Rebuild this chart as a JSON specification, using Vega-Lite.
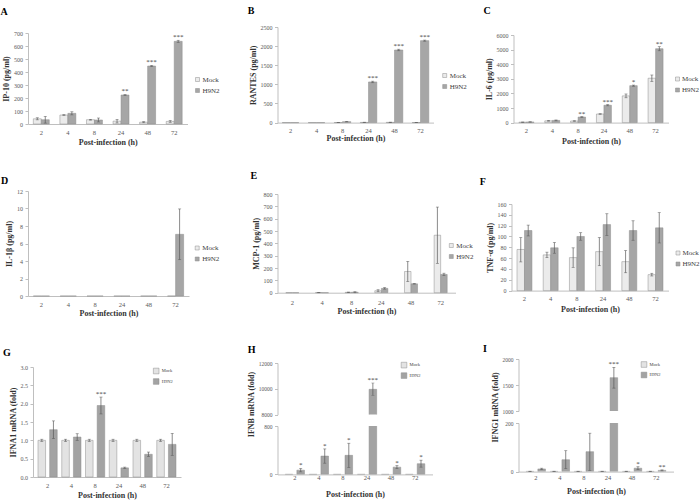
{
"$schema": "https://vega.github.io/schema/vega-lite/v6.json",
"padding": {"left": 0, "top": 0, "right": 0, "bottom": 0},
"background": "white",
"datasets": {
"A": [{"t":"2","g":"Mock","v":40,"lo":32,"hi":48,"s":""},{"t":"2","g":"H9N2","v":33,"lo":7,"hi":59,"s":""},{"t":"4","g":"Mock","v":69,"lo":66,"hi":72,"s":""},{"t":"4","g":"H9N2","v":82,"lo":70,"hi":94,"s":""},{"t":"8","g":"Mock","v":33,"lo":30,"hi":36,"s":""},{"t":"8","g":"H9N2","v":31,"lo":16,"hi":46,"s":""},{"t":"24","g":"Mock","v":22,"lo":8,"hi":36,"s":""},{"t":"24","g":"H9N2","v":223,"lo":219,"hi":227,"s":"**"},{"t":"48","g":"Mock","v":14,"lo":10,"hi":18,"s":""},{"t":"48","g":"H9N2","v":446,"lo":441,"hi":451,"s":"***"},{"t":"72","g":"Mock","v":20,"lo":13,"hi":27,"s":""},{"t":"72","g":"H9N2","v":636,"lo":628,"hi":644,"s":"***"}],
"B": [{"t":"2","g":"Mock","v":0,"lo":null,"hi":null,"s":""},{"t":"2","g":"H9N2","v":0,"lo":null,"hi":null,"s":""},{"t":"4","g":"Mock","v":0,"lo":null,"hi":null,"s":""},{"t":"4","g":"H9N2","v":0,"lo":null,"hi":null,"s":""},{"t":"8","g":"Mock","v":3,"lo":1,"hi":5,"s":""},{"t":"8","g":"H9N2","v":25,"lo":18,"hi":32,"s":""},{"t":"24","g":"Mock","v":5,"lo":0,"hi":10,"s":""},{"t":"24","g":"H9N2","v":1063,"lo":1043,"hi":1083,"s":"***"},{"t":"48","g":"Mock","v":6,"lo":1,"hi":11,"s":""},{"t":"48","g":"H9N2","v":1899,"lo":1879,"hi":1919,"s":"***"},{"t":"72","g":"Mock","v":2,"lo":0,"hi":4,"s":""},{"t":"72","g":"H9N2","v":2143,"lo":2128,"hi":2158,"s":"***"}],
"C": [{"t":"2","g":"Mock","v":30,"lo":20,"hi":40,"s":""},{"t":"2","g":"H9N2","v":45,"lo":35,"hi":55,"s":""},{"t":"4","g":"Mock","v":120,"lo":100,"hi":140,"s":""},{"t":"4","g":"H9N2","v":150,"lo":120,"hi":180,"s":""},{"t":"8","g":"Mock","v":110,"lo":90,"hi":130,"s":""},{"t":"8","g":"H9N2","v":380,"lo":350,"hi":410,"s":"**"},{"t":"24","g":"Mock","v":590,"lo":570,"hi":610,"s":""},{"t":"24","g":"H9N2","v":1190,"lo":1150,"hi":1230,"s":"***"},{"t":"48","g":"Mock","v":1830,"lo":1700,"hi":1960,"s":""},{"t":"48","g":"H9N2","v":2530,"lo":2490,"hi":2570,"s":"*"},{"t":"72","g":"Mock","v":3040,"lo":2820,"hi":3260,"s":""},{"t":"72","g":"H9N2","v":5060,"lo":4920,"hi":5200,"s":"**"}],
"D": [{"t":"2","g":"Mock","v":0,"lo":null,"hi":null,"s":""},{"t":"2","g":"H9N2","v":0,"lo":null,"hi":null,"s":""},{"t":"4","g":"Mock","v":0,"lo":null,"hi":null,"s":""},{"t":"4","g":"H9N2","v":0,"lo":null,"hi":null,"s":""},{"t":"8","g":"Mock","v":0,"lo":null,"hi":null,"s":""},{"t":"8","g":"H9N2","v":0,"lo":null,"hi":null,"s":""},{"t":"24","g":"Mock","v":0,"lo":null,"hi":null,"s":""},{"t":"24","g":"H9N2","v":0,"lo":null,"hi":null,"s":""},{"t":"48","g":"Mock","v":0,"lo":null,"hi":null,"s":""},{"t":"48","g":"H9N2","v":0,"lo":null,"hi":null,"s":""},{"t":"72","g":"Mock","v":0,"lo":null,"hi":null,"s":""},{"t":"72","g":"H9N2","v":7.05,"lo":4.15,"hi":9.95,"s":""}],
"E": [{"t":"2","g":"Mock","v":0,"lo":null,"hi":null,"s":""},{"t":"2","g":"H9N2","v":0,"lo":null,"hi":null,"s":""},{"t":"4","g":"Mock","v":1,"lo":0,"hi":3,"s":""},{"t":"4","g":"H9N2","v":0,"lo":null,"hi":null,"s":""},{"t":"8","g":"Mock","v":3,"lo":1,"hi":5,"s":""},{"t":"8","g":"H9N2","v":4,"lo":0,"hi":8,"s":""},{"t":"24","g":"Mock","v":16,"lo":8,"hi":24,"s":""},{"t":"24","g":"H9N2","v":35,"lo":29,"hi":41,"s":""},{"t":"48","g":"Mock","v":172,"lo":90,"hi":254,"s":""},{"t":"48","g":"H9N2","v":72,"lo":70,"hi":74,"s":""},{"t":"72","g":"Mock","v":466,"lo":238,"hi":694,"s":""},{"t":"72","g":"H9N2","v":148,"lo":138,"hi":158,"s":""}],
"F": [{"t":"2","g":"Mock","v":76,"lo":53,"hi":98,"s":""},{"t":"2","g":"H9N2","v":111,"lo":101,"hi":121,"s":""},{"t":"4","g":"Mock","v":66,"lo":61,"hi":71,"s":""},{"t":"4","g":"H9N2","v":79,"lo":69,"hi":89,"s":""},{"t":"8","g":"Mock","v":61,"lo":43,"hi":79,"s":""},{"t":"8","g":"H9N2","v":100,"lo":93,"hi":107,"s":""},{"t":"24","g":"Mock","v":72,"lo":46,"hi":98,"s":""},{"t":"24","g":"H9N2","v":122,"lo":102,"hi":142,"s":""},{"t":"48","g":"Mock","v":53.5,"lo":33,"hi":74,"s":""},{"t":"48","g":"H9N2","v":111,"lo":93,"hi":129,"s":""},{"t":"72","g":"Mock","v":29.5,"lo":27,"hi":32,"s":""},{"t":"72","g":"H9N2","v":116,"lo":88,"hi":144,"s":""}],
"G": [{"t":"2","g":"Mock","v":1,"lo":0.97,"hi":1.03,"s":""},{"t":"2","g":"H9N2","v":1.29,"lo":1.05,"hi":1.53,"s":""},{"t":"4","g":"Mock","v":1,"lo":0.97,"hi":1.03,"s":""},{"t":"4","g":"H9N2","v":1.09,"lo":1.0,"hi":1.18,"s":""},{"t":"8","g":"Mock","v":1,"lo":0.97,"hi":1.03,"s":""},{"t":"8","g":"H9N2","v":1.95,"lo":1.72,"hi":2.18,"s":"***"},{"t":"24","g":"Mock","v":1,"lo":0.97,"hi":1.03,"s":""},{"t":"24","g":"H9N2","v":0.25,"lo":0.23,"hi":0.27,"s":""},{"t":"48","g":"Mock","v":1,"lo":0.97,"hi":1.03,"s":""},{"t":"48","g":"H9N2","v":0.62,"lo":0.56,"hi":0.68,"s":""},{"t":"72","g":"Mock","v":1,"lo":0.97,"hi":1.03,"s":""},{"t":"72","g":"H9N2","v":0.89,"lo":0.59,"hi":1.19,"s":""}],
"H": [{"t":"2","g":"Mock","v":1,"lo":null,"hi":null,"s":""},{"t":"2","g":"H9N2","v":70,"lo":42,"hi":98,"s":"*"},{"t":"4","g":"Mock","v":1,"lo":null,"hi":null,"s":""},{"t":"4","g":"H9N2","v":303,"lo":185,"hi":421,"s":"*"},{"t":"8","g":"Mock","v":1,"lo":null,"hi":null,"s":""},{"t":"8","g":"H9N2","v":315,"lo":115,"hi":515,"s":"*"},{"t":"24","g":"Mock","v":1,"lo":null,"hi":null,"s":""},{"t":"24","g":"H9N2","v":9960,"lo":9500,"hi":10450,"s":"***"},{"t":"48","g":"Mock","v":1,"lo":null,"hi":null,"s":""},{"t":"48","g":"H9N2","v":120,"lo":95,"hi":145,"s":"*"},{"t":"72","g":"Mock","v":1,"lo":null,"hi":null,"s":""},{"t":"72","g":"H9N2","v":177,"lo":120,"hi":235,"s":"*"}],
"I": [{"t":"2","g":"Mock","v":1,"lo":0.5,"hi":1.5,"s":""},{"t":"2","g":"H9N2","v":11,"lo":8,"hi":14,"s":""},{"t":"4","g":"Mock","v":1,"lo":0.5,"hi":1.5,"s":""},{"t":"4","g":"H9N2","v":49,"lo":12,"hi":86,"s":""},{"t":"8","g":"Mock","v":1,"lo":0.5,"hi":1.5,"s":""},{"t":"8","g":"H9N2","v":82,"lo":5,"hi":158,"s":""},{"t":"24","g":"Mock","v":1,"lo":0.5,"hi":1.5,"s":""},{"t":"24","g":"H9N2","v":1641,"lo":1440,"hi":1840,"s":"***"},{"t":"48","g":"Mock","v":1,"lo":0.5,"hi":1.5,"s":""},{"t":"48","g":"H9N2","v":14,"lo":8,"hi":20,"s":"*"},{"t":"72","g":"Mock","v":1,"lo":0.5,"hi":1.5,"s":""},{"t":"72","g":"H9N2","v":5,"lo":3,"hi":7,"s":"**"}]
},
"spacing": 249.5,
"bounds": "flush",
"resolve": {"scale": {"x": "independent", "y": "independent", "color": "independent", "xOffset": "independent"}, "axis": {"x": "independent", "y": "independent"}, "legend": {"color": "independent"}},
"hconcat": [
{"vconcat": [
{"width": 1, "height": 32.3, "data": {"values": []}, "mark": "point"},
{"width": 159.5, "height": 91, "data": {"name": "A"}, "title": {"text": "A", "offset": 13, "dx": -2},
 "encoding": {"x": {"field": "t", "type": "ordinal", "sort": ["2","4","8","24","48","72"], "title": "Post-infection (h)", "scale": {"paddingInner": 0.4, "paddingOuter": 0.2}, "axis": {"labelPadding": 5, "titlePadding": 3}}, "xOffset": {"field": "g", "type": "nominal", "sort": ["Mock","H9N2"]}},
 "layer": [
  {"mark": {"type": "bar", "stroke": "#8c8c8c", "strokeWidth": 0.5}, "encoding": {"y": {"field": "v", "type": "quantitative", "title": "IP-10 (pg/ml)", "scale": {"domain": [0,700], "nice": false}, "axis": {"values": [0,100,200,300,400,500,600,700], "format": "d", "labelOverlap": false}}, "color": {"field": "g", "type": "nominal", "sort": ["Mock","H9N2"], "scale": {"domain": ["Mock","H9N2"], "range": ["#ebebeb","#a6a6a6"]}, "legend": {"title": null, "orient": "none", "legendX": 166, "legendY": 43}}}},
  {"mark": {"type": "rule", "color": "#595959", "strokeWidth": 0.7}, "encoding": {"y": {"field": "lo", "type": "quantitative", "title": "IP-10 (pg/ml)", "axis": {"values": [0,100,200,300,400,500,600,700], "format": "d", "labelOverlap": false}}, "y2": {"field": "hi"}}},
  {"mark": {"type": "tick", "color": "#595959", "size": 3, "thickness": 0.7}, "encoding": {"y": {"field": "lo", "type": "quantitative", "title": "IP-10 (pg/ml)", "axis": {"values": [0,100,200,300,400,500,600,700], "format": "d", "labelOverlap": false}}}},
  {"mark": {"type": "tick", "color": "#595959", "size": 3, "thickness": 0.7}, "encoding": {"y": {"field": "hi", "type": "quantitative", "title": "IP-10 (pg/ml)", "axis": {"values": [0,100,200,300,400,500,600,700], "format": "d", "labelOverlap": false}}}},
  {"mark": {"type": "text", "baseline": "bottom", "fontSize": 7, "color": "#404040"}, "transform": [{"filter": "datum.s != ''"}], "encoding": {"y": {"field": "hi", "type": "quantitative", "title": "IP-10 (pg/ml)", "axis": {"values": [0,100,200,300,400,500,600,700], "format": "d", "labelOverlap": false}}, "text": {"field": "s"}}}
 ]},
{"width": 1, "height": 66.7, "data": {"values": []}, "mark": "point"},
{"width": 161, "height": 105, "data": {"name": "D"}, "title": {"text": "D", "offset": 2.3, "dx": -4.5},
 "encoding": {"x": {"field": "t", "type": "ordinal", "sort": ["2","4","8","24","48","72"], "title": "Post-infection (h)", "scale": {"paddingInner": 0.4, "paddingOuter": 0.2}, "axis": {"labelPadding": 5, "titlePadding": 2.4}}, "xOffset": {"field": "g", "type": "nominal", "sort": ["Mock","H9N2"]}},
 "layer": [
  {"mark": {"type": "bar", "stroke": "#8c8c8c", "strokeWidth": 0.5}, "encoding": {"y": {"field": "v", "type": "quantitative", "title": "IL-1β (pg/ml)", "scale": {"domain": [0,12], "nice": false}, "axis": {"values": [0,2,4,6,8,10,12], "format": "d", "labelOverlap": false}}, "color": {"field": "g", "type": "nominal", "sort": ["Mock","H9N2"], "scale": {"domain": ["Mock","H9N2"], "range": ["#ebebeb","#a6a6a6"]}, "legend": {"title": null, "orient": "none", "legendX": 165.7, "legendY": 53.5}}}},
  {"mark": {"type": "rule", "color": "#595959", "strokeWidth": 0.7}, "encoding": {"y": {"field": "lo", "type": "quantitative", "title": "IL-1β (pg/ml)", "axis": {"values": [0,2,4,6,8,10,12], "format": "d", "labelOverlap": false}}, "y2": {"field": "hi"}}},
  {"mark": {"type": "tick", "color": "#595959", "size": 3, "thickness": 0.7}, "encoding": {"y": {"field": "lo", "type": "quantitative", "title": "IL-1β (pg/ml)", "axis": {"values": [0,2,4,6,8,10,12], "format": "d", "labelOverlap": false}}}},
  {"mark": {"type": "tick", "color": "#595959", "size": 3, "thickness": 0.7}, "encoding": {"y": {"field": "hi", "type": "quantitative", "title": "IL-1β (pg/ml)", "axis": {"values": [0,2,4,6,8,10,12], "format": "d", "labelOverlap": false}}}}
 ]},
{"width": 1, "height": 71, "data": {"values": []}, "mark": "point"},
{"width": 153, "height": 110, "data": {"name": "G"}, "title": {"text": "G", "offset": 6, "dx": -6},
 "encoding": {"x": {"field": "t", "type": "ordinal", "sort": ["2","4","8","24","48","72"], "title": "Post-infection (h)", "scale": {"paddingInner": 0.19, "paddingOuter": 0.21, "range": [5, 153]}, "axis": {"labelPadding": 5, "titlePadding": 3.3}}, "xOffset": {"field": "g", "type": "nominal", "sort": ["Mock","H9N2"], "scale": {"paddingInner": 0.35}}},
 "layer": [
  {"mark": {"type": "bar", "stroke": "#8f8f8f", "strokeWidth": 0.5}, "encoding": {"y": {"field": "v", "type": "quantitative", "title": "IFNA1 mRNA (fold)", "scale": {"domain": [0,3], "nice": false}, "axis": {"values": [0,0.5,1,1.5,2,2.5,3], "format": ".1f", "offset": -5, "labelOverlap": false}}, "color": {"field": "g", "type": "nominal", "sort": ["Mock","H9N2"], "scale": {"domain": ["Mock","H9N2"], "range": ["#e3e3e3","#a3a3a3"]}, "legend": {"title": null, "orient": "none", "legendX": 124.7, "legendY": 0.5, "symbolSize": 32, "labelFontSize": 4.5, "rowPadding": 1.5, "labelOffset": 2}}}},
  {"mark": {"type": "rule", "color": "#595959", "strokeWidth": 0.7}, "encoding": {"y": {"field": "lo", "type": "quantitative", "title": "IFNA1 mRNA (fold)", "axis": {"values": [0,0.5,1,1.5,2,2.5,3], "format": ".1f", "offset": -5, "labelOverlap": false}}, "y2": {"field": "hi"}}},
  {"mark": {"type": "tick", "color": "#595959", "size": 3, "thickness": 0.7}, "encoding": {"y": {"field": "lo", "type": "quantitative", "title": "IFNA1 mRNA (fold)", "axis": {"values": [0,0.5,1,1.5,2,2.5,3], "format": ".1f", "offset": -5, "labelOverlap": false}}}},
  {"mark": {"type": "tick", "color": "#595959", "size": 3, "thickness": 0.7}, "encoding": {"y": {"field": "hi", "type": "quantitative", "title": "IFNA1 mRNA (fold)", "axis": {"values": [0,0.5,1,1.5,2,2.5,3], "format": ".1f", "offset": -5, "labelOverlap": false}}}},
  {"mark": {"type": "text", "baseline": "bottom", "fontSize": 7, "color": "#404040"}, "transform": [{"filter": "datum.s != ''"}], "encoding": {"y": {"field": "hi", "type": "quantitative", "title": "IFNA1 mRNA (fold)", "axis": {"values": [0,0.5,1,1.5,2,2.5,3], "format": ".1f", "offset": -5, "labelOverlap": false}}, "text": {"field": "s"}}}
 ]}
], "spacing": 0, "bounds": "flush", "resolve": {"scale": {"x": "independent", "y": "independent", "color": "independent", "xOffset": "independent"}, "axis": {"x": "independent", "y": "independent"}, "legend": {"color": "independent"}}},
{"hconcat": [
{"vconcat": [
{"width": 1, "height": 26.7, "data": {"values": []}, "mark": "point"},
{"width": 156, "height": 95.6, "data": {"name": "B"}, "title": {"text": "B", "offset": 7.7, "dx": -1.3},
 "encoding": {"x": {"field": "t", "type": "ordinal", "sort": ["2","4","8","24","48","72"], "title": "Post-infection (h)", "scale": {"paddingInner": 0.36, "paddingOuter": 0.18}, "axis": {"labelPadding": 5, "titlePadding": 0}}, "xOffset": {"field": "g", "type": "nominal", "sort": ["Mock","H9N2"]}},
 "layer": [
  {"mark": {"type": "bar", "stroke": "#8c8c8c", "strokeWidth": 0.5}, "encoding": {"y": {"field": "v", "type": "quantitative", "title": "RANTES (pg/ml)", "scale": {"domain": [0,2500], "nice": false}, "axis": {"values": [0,500,1000,1500,2000,2500], "format": "d", "labelOverlap": false}}, "color": {"field": "g", "type": "nominal", "sort": ["Mock","H9N2"], "scale": {"domain": ["Mock","H9N2"], "range": ["#ebebeb","#a6a6a6"]}, "legend": {"title": null, "orient": "none", "legendX": 163.7, "legendY": 45}}}},
  {"mark": {"type": "rule", "color": "#595959", "strokeWidth": 0.7}, "encoding": {"y": {"field": "lo", "type": "quantitative", "title": "RANTES (pg/ml)", "axis": {"values": [0,500,1000,1500,2000,2500], "format": "d", "labelOverlap": false}}, "y2": {"field": "hi"}}},
  {"mark": {"type": "tick", "color": "#595959", "size": 3, "thickness": 0.7}, "encoding": {"y": {"field": "lo", "type": "quantitative", "title": "RANTES (pg/ml)", "axis": {"values": [0,500,1000,1500,2000,2500], "format": "d", "labelOverlap": false}}}},
  {"mark": {"type": "tick", "color": "#595959", "size": 3, "thickness": 0.7}, "encoding": {"y": {"field": "hi", "type": "quantitative", "title": "RANTES (pg/ml)", "axis": {"values": [0,500,1000,1500,2000,2500], "format": "d", "labelOverlap": false}}}},
  {"mark": {"type": "text", "baseline": "bottom", "fontSize": 7, "color": "#404040"}, "transform": [{"filter": "datum.s != ''"}], "encoding": {"y": {"field": "hi", "type": "quantitative", "title": "RANTES (pg/ml)", "axis": {"values": [0,500,1000,1500,2000,2500], "format": "d", "labelOverlap": false}}, "text": {"field": "s"}}}
 ]},
{"width": 1, "height": 71, "data": {"values": []}, "mark": "point"},
{"width": 178, "height": 98.7, "data": {"name": "E"}, "title": {"text": "E", "offset": 10, "dx": -1.5},
 "encoding": {"x": {"field": "t", "type": "ordinal", "sort": ["2","4","8","24","48","72"], "title": "Post-infection (h)", "scale": {"paddingInner": 0.56, "paddingOuter": 0.28}, "axis": {"labelPadding": 6.5, "titlePadding": 2}}, "xOffset": {"field": "g", "type": "nominal", "sort": ["Mock","H9N2"]}},
 "layer": [
  {"mark": {"type": "bar", "stroke": "#8c8c8c", "strokeWidth": 0.5}, "encoding": {"y": {"field": "v", "type": "quantitative", "title": "MCP-1 (pg/ml)", "scale": {"domain": [0,800], "nice": false}, "axis": {"values": [0,100,200,300,400,500,600,700,800], "format": "d", "labelOverlap": false}}, "color": {"field": "g", "type": "nominal", "sort": ["Mock","H9N2"], "scale": {"domain": ["Mock","H9N2"], "range": ["#ebebeb","#a6a6a6"]}, "legend": {"title": null, "orient": "none", "legendX": 170.3, "legendY": 48}}}},
  {"mark": {"type": "rule", "color": "#595959", "strokeWidth": 0.7}, "encoding": {"y": {"field": "lo", "type": "quantitative", "title": "MCP-1 (pg/ml)", "axis": {"values": [0,100,200,300,400,500,600,700,800], "format": "d", "labelOverlap": false}}, "y2": {"field": "hi"}}},
  {"mark": {"type": "tick", "color": "#595959", "size": 3, "thickness": 0.7}, "encoding": {"y": {"field": "lo", "type": "quantitative", "title": "MCP-1 (pg/ml)", "axis": {"values": [0,100,200,300,400,500,600,700,800], "format": "d", "labelOverlap": false}}}},
  {"mark": {"type": "tick", "color": "#595959", "size": 3, "thickness": 0.7}, "encoding": {"y": {"field": "hi", "type": "quantitative", "title": "MCP-1 (pg/ml)", "axis": {"values": [0,100,200,300,400,500,600,700,800], "format": "d", "labelOverlap": false}}}}
 ]},
{"width": 1, "height": 69.7, "data": {"values": []}, "mark": "point"},
{"width": 155, "height": 51.6, "data": {"name": "H"}, "title": {"text": "H", "offset": 6.5, "dx": 0.4},
 "encoding": {"x": {"field": "t", "type": "ordinal", "sort": ["2","4","8","24","48","72"], "scale": {"domain": ["2","4","8","24","48","72"], "paddingInner": 0.2, "paddingOuter": 0.32}, "axis": null}, "xOffset": {"field": "g", "type": "nominal", "sort": ["Mock","H9N2"], "scale": {"domain": ["Mock","H9N2"], "paddingInner": 0.35}}},
 "layer": [
  {"mark": {"type": "bar", "stroke": "#8f8f8f", "strokeWidth": 0.5, "clip": true}, "transform": [{"filter": "datum.v >= 8000"}], "encoding": {"y": {"field": "v", "type": "quantitative", "title": "IFNB mRNA (fold)", "scale": {"domain": [8000,12000], "nice": false, "zero": false}, "axis": {"values": [8000,10000,12000], "format": "d", "titleY": 41, "labelFontSize": 5.5, "labelOverlap": false}}, "color": {"field": "g", "type": "nominal", "sort": ["Mock","H9N2"], "scale": {"domain": ["Mock","H9N2"], "range": ["#e3e3e3","#a3a3a3"]}, "legend": {"title": null, "orient": "none", "legendX": 123, "legendY": -1.4, "symbolSize": 32, "labelFontSize": 4.5, "rowPadding": 1.5, "labelOffset": 2}}}},
  {"mark": {"type": "rule", "color": "#595959", "strokeWidth": 0.7, "clip": true}, "transform": [{"filter": "datum.v >= 8000"}], "encoding": {"y": {"field": "lo", "type": "quantitative", "title": "IFNB mRNA (fold)", "axis": {"values": [8000,10000,12000], "format": "d", "titleY": 41, "labelFontSize": 5.5, "labelOverlap": false}}, "y2": {"field": "hi"}}},
  {"mark": {"type": "tick", "color": "#595959", "size": 3, "thickness": 0.7, "clip": true}, "transform": [{"filter": "datum.v >= 8000"}], "encoding": {"y": {"field": "lo", "type": "quantitative", "title": "IFNB mRNA (fold)", "axis": {"values": [8000,10000,12000], "format": "d", "titleY": 41, "labelFontSize": 5.5, "labelOverlap": false}}}},
  {"mark": {"type": "tick", "color": "#595959", "size": 3, "thickness": 0.7, "clip": true}, "transform": [{"filter": "datum.v >= 8000"}], "encoding": {"y": {"field": "hi", "type": "quantitative", "title": "IFNB mRNA (fold)", "axis": {"values": [8000,10000,12000], "format": "d", "titleY": 41, "labelFontSize": 5.5, "labelOverlap": false}}}},
  {"mark": {"type": "text", "baseline": "bottom", "fontSize": 7, "color": "#404040"}, "transform": [{"filter": "datum.v >= 8000"}], "encoding": {"y": {"field": "hi", "type": "quantitative", "title": "IFNB mRNA (fold)", "axis": {"values": [8000,10000,12000], "format": "d", "titleY": 41, "labelFontSize": 5.5, "labelOverlap": false}}, "text": {"field": "s"}}}
 ]},
{"width": 1, "height": 11, "data": {"values": []}, "mark": "point"},
{"width": 155, "height": 48.4, "data": {"name": "H"},
 "encoding": {"x": {"field": "t", "type": "ordinal", "sort": ["2","4","8","24","48","72"], "title": "Post-infection (h)", "scale": {"domain": ["2","4","8","24","48","72"], "paddingInner": 0.2, "paddingOuter": 0.32}, "axis": {"labelPadding": 0.5, "titlePadding": 8.6}}, "xOffset": {"field": "g", "type": "nominal", "sort": ["Mock","H9N2"], "scale": {"domain": ["Mock","H9N2"], "paddingInner": 0.35}}},
 "layer": [
  {"mark": {"type": "bar", "stroke": "#8f8f8f", "strokeWidth": 0.5, "clip": true}, "encoding": {"y": {"field": "v", "type": "quantitative", "title": null, "scale": {"domain": [0,800], "nice": false}, "axis": {"values": [0,800], "format": "d", "labelFontSize": 5.5, "labelOverlap": false}}, "color": {"field": "g", "type": "nominal", "sort": ["Mock","H9N2"], "scale": {"domain": ["Mock","H9N2"], "range": ["#e3e3e3","#a3a3a3"]}, "legend": null}}},
  {"mark": {"type": "rule", "color": "#595959", "strokeWidth": 0.7}, "transform": [{"filter": "datum.v < 800"}], "encoding": {"y": {"field": "lo", "type": "quantitative", "title": null, "axis": {"values": [0,800], "format": "d", "labelFontSize": 5.5, "labelOverlap": false}}, "y2": {"field": "hi"}}},
  {"mark": {"type": "tick", "color": "#595959", "size": 3, "thickness": 0.7}, "transform": [{"filter": "datum.v < 800"}], "encoding": {"y": {"field": "lo", "type": "quantitative", "title": null, "axis": {"values": [0,800], "format": "d", "labelFontSize": 5.5, "labelOverlap": false}}}},
  {"mark": {"type": "tick", "color": "#595959", "size": 3, "thickness": 0.7}, "transform": [{"filter": "datum.v < 800"}], "encoding": {"y": {"field": "hi", "type": "quantitative", "title": null, "axis": {"values": [0,800], "format": "d", "labelFontSize": 5.5, "labelOverlap": false}}}},
  {"mark": {"type": "text", "baseline": "bottom", "fontSize": 7, "color": "#404040"}, "transform": [{"filter": "datum.v < 800 && datum.s != ''"}], "encoding": {"y": {"field": "hi", "type": "quantitative", "title": null, "axis": {"values": [0,800], "format": "d", "labelFontSize": 5.5, "labelOverlap": false}}, "text": {"field": "s"}}}
 ]}
], "spacing": 0, "bounds": "flush", "resolve": {"scale": {"x": "independent", "y": "independent", "color": "independent", "xOffset": "independent"}, "axis": {"x": "independent", "y": "independent"}, "legend": {"color": "independent"}}},
{"vconcat": [
{"width": 1, "height": 34.7, "data": {"values": []}, "mark": "point"},
{"width": 157, "height": 87.6, "data": {"name": "C"}, "title": {"text": "C", "offset": 15.7, "dx": -1.6},
 "encoding": {"x": {"field": "t", "type": "ordinal", "sort": ["2","4","8","24","48","72"], "title": "Post-infection (h)", "scale": {"paddingInner": 0.42, "paddingOuter": 0.21, "range": [2, 157]}, "axis": {"labelPadding": 5, "titlePadding": 3}}, "xOffset": {"field": "g", "type": "nominal", "sort": ["Mock","H9N2"]}},
 "layer": [
  {"mark": {"type": "bar", "stroke": "#8c8c8c", "strokeWidth": 0.5}, "encoding": {"y": {"field": "v", "type": "quantitative", "title": "IL-6 (pg/ml)", "scale": {"domain": [0,6000], "nice": false}, "axis": {"values": [0,1000,2000,3000,4000,5000,6000], "format": "d", "offset": -2, "labelOverlap": false}}, "color": {"field": "g", "type": "nominal", "sort": ["Mock","H9N2"], "scale": {"domain": ["Mock","H9N2"], "range": ["#ebebeb","#a6a6a6"]}, "legend": {"title": null, "orient": "none", "legendX": 162.5, "legendY": 40.5, "labelOffset": 1}}}},
  {"mark": {"type": "rule", "color": "#595959", "strokeWidth": 0.7}, "encoding": {"y": {"field": "lo", "type": "quantitative", "title": "IL-6 (pg/ml)", "axis": {"values": [0,1000,2000,3000,4000,5000,6000], "format": "d", "offset": -2, "labelOverlap": false}}, "y2": {"field": "hi"}}},
  {"mark": {"type": "tick", "color": "#595959", "size": 3, "thickness": 0.7}, "encoding": {"y": {"field": "lo", "type": "quantitative", "title": "IL-6 (pg/ml)", "axis": {"values": [0,1000,2000,3000,4000,5000,6000], "format": "d", "offset": -2, "labelOverlap": false}}}},
  {"mark": {"type": "tick", "color": "#595959", "size": 3, "thickness": 0.7}, "encoding": {"y": {"field": "hi", "type": "quantitative", "title": "IL-6 (pg/ml)", "axis": {"values": [0,1000,2000,3000,4000,5000,6000], "format": "d", "offset": -2, "labelOverlap": false}}}},
  {"mark": {"type": "text", "baseline": "bottom", "fontSize": 7, "color": "#404040"}, "transform": [{"filter": "datum.s != ''"}], "encoding": {"y": {"field": "hi", "type": "quantitative", "title": "IL-6 (pg/ml)", "axis": {"values": [0,1000,2000,3000,4000,5000,6000], "format": "d", "offset": -2, "labelOverlap": false}}, "text": {"field": "s"}}}
 ]},
{"width": 1, "height": 80.4, "data": {"values": []}, "mark": "point"},
{"width": 157, "height": 86.6, "data": {"name": "F"}, "title": {"text": "F", "offset": 13.7, "dx": -6.3},
 "encoding": {"x": {"field": "t", "type": "ordinal", "sort": ["2","4","8","24","48","72"], "title": "Post-infection (h)", "scale": {"paddingInner": 0.43, "paddingOuter": 0.21}, "axis": {"labelPadding": 5, "titlePadding": 3}}, "xOffset": {"field": "g", "type": "nominal", "sort": ["Mock","H9N2"]}},
 "layer": [
  {"mark": {"type": "bar", "stroke": "#8c8c8c", "strokeWidth": 0.5}, "encoding": {"y": {"field": "v", "type": "quantitative", "title": "TNF-α (pg/ml)", "scale": {"domain": [0,160], "nice": false}, "axis": {"values": [0,20,40,60,80,100,120,140,160], "format": "d", "labelOverlap": false}}, "color": {"field": "g", "type": "nominal", "sort": ["Mock","H9N2"], "scale": {"domain": ["Mock","H9N2"], "range": ["#ebebeb","#a6a6a6"]}, "legend": {"title": null, "orient": "none", "legendX": 163, "legendY": 45.5, "labelOffset": 1}}}},
  {"mark": {"type": "rule", "color": "#595959", "strokeWidth": 0.7}, "encoding": {"y": {"field": "lo", "type": "quantitative", "title": "TNF-α (pg/ml)", "axis": {"values": [0,20,40,60,80,100,120,140,160], "format": "d", "labelOverlap": false}}, "y2": {"field": "hi"}}},
  {"mark": {"type": "tick", "color": "#595959", "size": 3, "thickness": 0.7}, "encoding": {"y": {"field": "lo", "type": "quantitative", "title": "TNF-α (pg/ml)", "axis": {"values": [0,20,40,60,80,100,120,140,160], "format": "d", "labelOverlap": false}}}},
  {"mark": {"type": "tick", "color": "#595959", "size": 3, "thickness": 0.7}, "encoding": {"y": {"field": "hi", "type": "quantitative", "title": "TNF-α (pg/ml)", "axis": {"values": [0,20,40,60,80,100,120,140,160], "format": "d", "labelOverlap": false}}}}
 ]},
{"width": 1, "height": 68, "data": {"values": []}, "mark": "point"},
{"width": 162, "height": 52, "data": {"name": "I"}, "title": {"text": "I", "offset": 3.3, "dx": -8},
 "encoding": {"x": {"field": "t", "type": "ordinal", "sort": ["2","4","8","24","48","72"], "scale": {"domain": ["2","4","8","24","48","72"], "paddingInner": 0.2, "paddingOuter": 0.32, "range": [7, 162]}, "axis": null}, "xOffset": {"field": "g", "type": "nominal", "sort": ["Mock","H9N2"], "scale": {"domain": ["Mock","H9N2"], "paddingInner": 0.35}}},
 "layer": [
  {"mark": {"type": "bar", "stroke": "#8f8f8f", "strokeWidth": 0.5, "clip": true}, "transform": [{"filter": "datum.v >= 1000"}], "encoding": {"y": {"field": "v", "type": "quantitative", "title": "IFNG1 mRNA (fold)", "scale": {"domain": [1000,2000], "nice": false, "zero": false}, "axis": {"values": [1000,1500,2000], "format": "d", "titleY": 48, "labelFontSize": 5.5, "offset": -7, "labelOverlap": false}}, "color": {"field": "g", "type": "nominal", "sort": ["Mock","H9N2"], "scale": {"domain": ["Mock","H9N2"], "range": ["#e3e3e3","#a3a3a3"]}, "legend": {"title": null, "orient": "none", "legendX": 129, "legendY": 2, "symbolSize": 32, "labelFontSize": 4.5, "rowPadding": 1.5, "labelOffset": 2}}}},
  {"mark": {"type": "rule", "color": "#595959", "strokeWidth": 0.7, "clip": true}, "transform": [{"filter": "datum.v >= 1000"}], "encoding": {"y": {"field": "lo", "type": "quantitative", "title": "IFNG1 mRNA (fold)", "axis": {"values": [1000,1500,2000], "format": "d", "titleY": 48, "labelFontSize": 5.5, "offset": -7, "labelOverlap": false}}, "y2": {"field": "hi"}}},
  {"mark": {"type": "tick", "color": "#595959", "size": 3, "thickness": 0.7, "clip": true}, "transform": [{"filter": "datum.v >= 1000"}], "encoding": {"y": {"field": "lo", "type": "quantitative", "title": "IFNG1 mRNA (fold)", "axis": {"values": [1000,1500,2000], "format": "d", "titleY": 48, "labelFontSize": 5.5, "offset": -7, "labelOverlap": false}}}},
  {"mark": {"type": "tick", "color": "#595959", "size": 3, "thickness": 0.7, "clip": true}, "transform": [{"filter": "datum.v >= 1000"}], "encoding": {"y": {"field": "hi", "type": "quantitative", "title": "IFNG1 mRNA (fold)", "axis": {"values": [1000,1500,2000], "format": "d", "titleY": 48, "labelFontSize": 5.5, "offset": -7, "labelOverlap": false}}}},
  {"mark": {"type": "text", "baseline": "bottom", "fontSize": 7, "color": "#404040"}, "transform": [{"filter": "datum.v >= 1000"}], "encoding": {"y": {"field": "hi", "type": "quantitative", "title": "IFNG1 mRNA (fold)", "axis": {"values": [1000,1500,2000], "format": "d", "titleY": 48, "labelFontSize": 5.5, "offset": -7, "labelOverlap": false}}, "text": {"field": "s"}}}
 ]},
{"width": 1, "height": 11.4, "data": {"values": []}, "mark": "point"},
{"width": 162, "height": 48.6, "data": {"name": "I"},
 "encoding": {"x": {"field": "t", "type": "ordinal", "sort": ["2","4","8","24","48","72"], "title": "Post-infection (h)", "scale": {"domain": ["2","4","8","24","48","72"], "paddingInner": 0.2, "paddingOuter": 0.32, "range": [7, 162]}, "axis": {"labelPadding": 3.1, "titlePadding": 6.4}}, "xOffset": {"field": "g", "type": "nominal", "sort": ["Mock","H9N2"], "scale": {"domain": ["Mock","H9N2"], "paddingInner": 0.35}}},
 "layer": [
  {"mark": {"type": "bar", "stroke": "#8f8f8f", "strokeWidth": 0.5, "clip": true}, "encoding": {"y": {"field": "v", "type": "quantitative", "title": null, "scale": {"domain": [0,200], "nice": false}, "axis": {"values": [0,200], "format": "d", "labelFontSize": 5.5, "offset": -7, "labelOverlap": false}}, "color": {"field": "g", "type": "nominal", "sort": ["Mock","H9N2"], "scale": {"domain": ["Mock","H9N2"], "range": ["#e3e3e3","#a3a3a3"]}, "legend": null}}},
  {"mark": {"type": "rule", "color": "#595959", "strokeWidth": 0.7}, "transform": [{"filter": "datum.v < 200"}], "encoding": {"y": {"field": "lo", "type": "quantitative", "title": null, "axis": {"values": [0,200], "format": "d", "labelFontSize": 5.5, "offset": -7, "labelOverlap": false}}, "y2": {"field": "hi"}}},
  {"mark": {"type": "tick", "color": "#595959", "size": 3, "thickness": 0.7}, "transform": [{"filter": "datum.v < 200"}], "encoding": {"y": {"field": "lo", "type": "quantitative", "title": null, "axis": {"values": [0,200], "format": "d", "labelFontSize": 5.5, "offset": -7, "labelOverlap": false}}}},
  {"mark": {"type": "tick", "color": "#595959", "size": 3, "thickness": 0.7}, "transform": [{"filter": "datum.v < 200"}], "encoding": {"y": {"field": "hi", "type": "quantitative", "title": null, "axis": {"values": [0,200], "format": "d", "labelFontSize": 5.5, "offset": -7, "labelOverlap": false}}}},
  {"mark": {"type": "text", "baseline": "bottom", "fontSize": 7, "color": "#404040"}, "transform": [{"filter": "datum.v < 200 && datum.s != ''"}], "encoding": {"y": {"field": "hi", "type": "quantitative", "title": null, "axis": {"values": [0,200], "format": "d", "labelFontSize": 5.5, "offset": -7, "labelOverlap": false}}, "text": {"field": "s"}}}
 ]}
], "spacing": 0, "bounds": "flush", "resolve": {"scale": {"x": "independent", "y": "independent", "color": "independent", "xOffset": "independent"}, "axis": {"x": "independent", "y": "independent"}, "legend": {"color": "independent"}}}
], "spacing": 234, "bounds": "flush", "resolve": {"scale": {"x": "independent", "y": "independent", "color": "independent", "xOffset": "independent"}, "axis": {"x": "independent", "y": "independent"}, "legend": {"color": "independent"}}}
],
"config": {
 "view": {"stroke": null},
 "font": "Liberation Serif",
 "axis": {"labelFont": "Liberation Serif", "titleFont": "Liberation Serif", "labelFontSize": 6, "labelColor": "#595959", "titleFontSize": 8, "titleFontWeight": "bold", "titleColor": "#333333", "domainColor": "#bfbfbf", "tickColor": "#bfbfbf", "tickSize": 3, "grid": false, "labelPadding": 2.5, "titlePadding": 3, "labelOverlap": false},
 "axisX": {"ticks": false, "labelAngle": 0, "labelFontSize": 6.5},
 "legend": {"symbolType": "square", "symbolSize": 16, "symbolStrokeColor": "#8c8c8c", "symbolStrokeWidth": 0.5, "labelFont": "Liberation Serif", "labelFontSize": 7, "labelColor": "#404040", "rowPadding": 3, "labelOffset": 1.5, "padding": 0},
 "title": {"font": "Liberation Serif", "fontSize": 10, "fontWeight": "bold", "color": "#000000", "anchor": "start", "frame": "bounds"}
}
}
